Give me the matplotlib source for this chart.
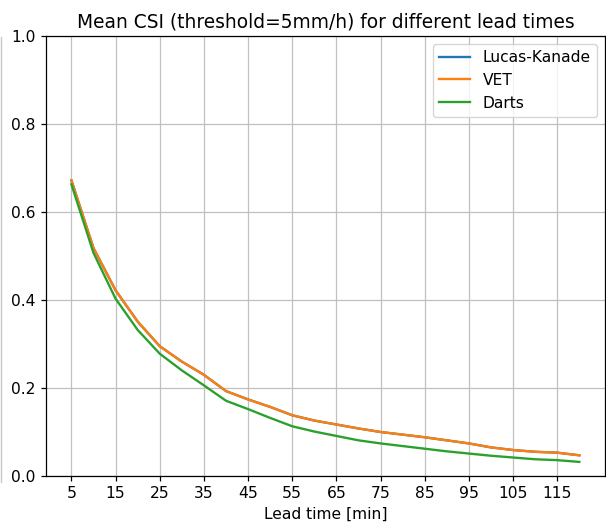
import matplotlib
matplotlib.use("Agg")
import matplotlib.pyplot as plt
from matplotlib.lines import Line2D

lead_times = list(range(5, 125, 5))
lucas_kanade = [0.672, 0.518, 0.422, 0.351, 0.295, 0.260, 0.230, 0.193, 0.174, 0.157,
                0.138, 0.126, 0.117, 0.108, 0.100, 0.094, 0.088, 0.081, 0.074, 0.065,
                0.059, 0.055, 0.053, 0.047]
vet = [0.672, 0.518, 0.422, 0.351, 0.295, 0.260, 0.230, 0.193, 0.174, 0.157,
       0.138, 0.126, 0.117, 0.108, 0.100, 0.094, 0.088, 0.081, 0.074, 0.065,
       0.059, 0.055, 0.053, 0.047]
darts = [0.663, 0.507, 0.403, 0.332, 0.278, 0.240, 0.206, 0.171, 0.152, 0.132,
         0.113, 0.101, 0.091, 0.081, 0.074, 0.068, 0.062, 0.056, 0.051, 0.046,
         0.042, 0.038, 0.036, 0.032]
xticks = list(range(5, 120, 10))

s = 1.12
plt.rcParams.update({
    "font.size": 10 * s,
    "axes.titlesize": 12 * s,
    "axes.linewidth": 0.8 * s,
    "grid.linewidth": 0.8 * s,
    "xtick.major.width": 0.8 * s,
    "ytick.major.width": 0.8 * s,
    "xtick.major.size": 3.5 * s,
    "ytick.major.size": 3.5 * s,
})

fig = plt.figure(figsize=(6.06, 5.27), dpi=100)
ax = fig.add_axes([0.0759, 0.0968, 0.922, 0.8349])
ax.plot(lead_times, lucas_kanade, label="Lucas-Kanade", color="#1f77b4", lw=1.5 * s)
ax.plot(lead_times, vet, label="VET", color="#ff7f0e", lw=1.5 * s)
ax.plot(lead_times, darts, label="Darts", color="#2ca02c", lw=1.5 * s)
ax.set_ylim(0, 1)
ax.set_xticks(xticks)
ax.grid(True, color="#c0c0c0")
ax.set_xlabel("Lead time [min]")
ax.set_title("Mean CSI (threshold=5mm/h) for different lead times")
ax.legend(loc="upper right")
fig.add_artist(Line2D([0.0015, 0.0015], [1 - 37/527, 1 - 482/527], color="#c8c8c8", lw=1))
fig.savefig("out.png", dpi=100)
